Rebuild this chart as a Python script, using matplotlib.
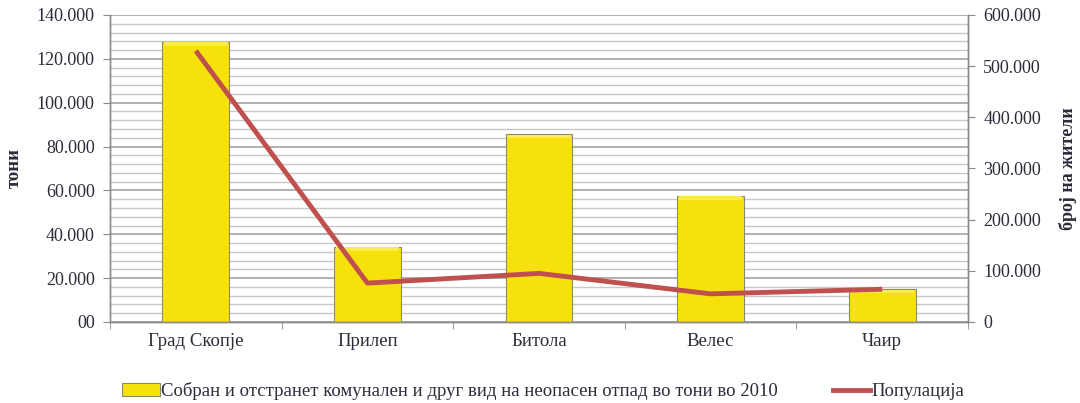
import matplotlib
matplotlib.use("Agg")
import matplotlib.pyplot as plt
import numpy as np
from matplotlib.ticker import FuncFormatter, MultipleLocator
from matplotlib.lines import Line2D
from matplotlib.patches import Patch

plt.rcParams['font.family'] = ['Liberation Serif', 'DejaVu Serif']

# Data
cities = ["Град Скопје", "Прилеп", "Битола", "Велес", "Чаир"]
waste_tonnes = [127700, 34200, 85700, 57500, 15000]
population = [530000, 76000, 95000, 55000, 64000]

waste_label = "Собран и отстранет комунален и друг вид на неопасен отпад во тони во 2010"
pop_label = "Популација"
left_ylabel = "тони"
right_ylabel = "број на жители"

bar_color = "#F6E10B"
line_color = "#C0504D"
text_color = "#2b2b3a"

fig = plt.figure(figsize=(10.8, 4.03), dpi=100)
ax = fig.add_axes([0.1019, 0.201, 0.7944, 0.7618])
ax2 = ax.twinx()

x = np.arange(len(cities))

# horizontal grid: minor every 4.000, major every 20.000
for v in np.arange(0, 140001, 4000):
    major = (v % 20000 == 0)
    ax.axhline(v, color="#9a9a9a" if major else "#c8c8c8",
               lw=1.1 if major else 1.0, zorder=0)

ax.bar(x, waste_tonnes, width=0.39, color=bar_color, edgecolor="#8a8a6a",
       linewidth=0.8, zorder=2)
# soft bevel highlight along the top of each bar
ax.bar(x, [1500] * len(waste_tonnes), bottom=[v - 1700 for v in waste_tonnes],
       width=0.37, color="#F9EA50", linewidth=0, zorder=3)

ax.set_xlim(-0.5, len(cities) - 0.5)
ax.set_ylim(0, 140000)
ax.yaxis.set_major_locator(MultipleLocator(20000))

def left_fmt(v, pos):
    if v == 0:
        return "00"
    return f"{int(v):,}".replace(",", ".")

ax.yaxis.set_major_formatter(FuncFormatter(left_fmt))

ax2.plot(x, population, color=line_color, lw=3.5, solid_capstyle="butt", zorder=5)
ax2.set_ylim(0, 600000)
ax2.yaxis.set_major_locator(MultipleLocator(100000))

def right_fmt(v, pos):
    if v == 0:
        return "0"
    return f"{int(v):,}".replace(",", ".")

ax2.yaxis.set_major_formatter(FuncFormatter(right_fmt))

ax.set_xticks(x)
ax.set_xticklabels(cities, fontsize=13.5, color=text_color)
ax.set_xticks(np.arange(-0.5, len(cities), 1.0), minor=True)
ax.tick_params(axis="x", which="major", length=0, pad=8)
ax.tick_params(axis="x", which="minor", length=5, color="#8a8a8a", direction="out")
ax.tick_params(axis="y", length=5, color="#8a8a8a", labelsize=13, labelcolor=text_color, pad=6)
ax2.tick_params(axis="y", length=5, color="#8a8a8a", labelsize=13, labelcolor=text_color, pad=6)

for a in (ax, ax2):
    a.spines["top"].set_visible(False)
    for s in ("left", "right", "bottom"):
        a.spines[s].set_color("#8a8a8a")
        a.spines[s].set_linewidth(1.0)

ax.set_ylabel(left_ylabel, fontsize=13.5, fontweight="bold", color=text_color, labelpad=10)
ax2.set_ylabel(right_ylabel, fontsize=13, fontweight="bold", color=text_color, labelpad=13,
               rotation=90)

handles = [Patch(facecolor=bar_color, edgecolor="#8a8a6a", linewidth=0.8),
           Line2D([0], [0], color=line_color, lw=3.5)]
fig.legend(handles, [waste_label, pop_label], loc="lower center", ncol=2,
           bbox_to_anchor=(0.503, -0.035), frameon=False, fontsize=13.5,
           handlelength=2.0, handletextpad=0.05, columnspacing=2.95,
           labelcolor=text_color)

fig.savefig("out.png", dpi=100)
